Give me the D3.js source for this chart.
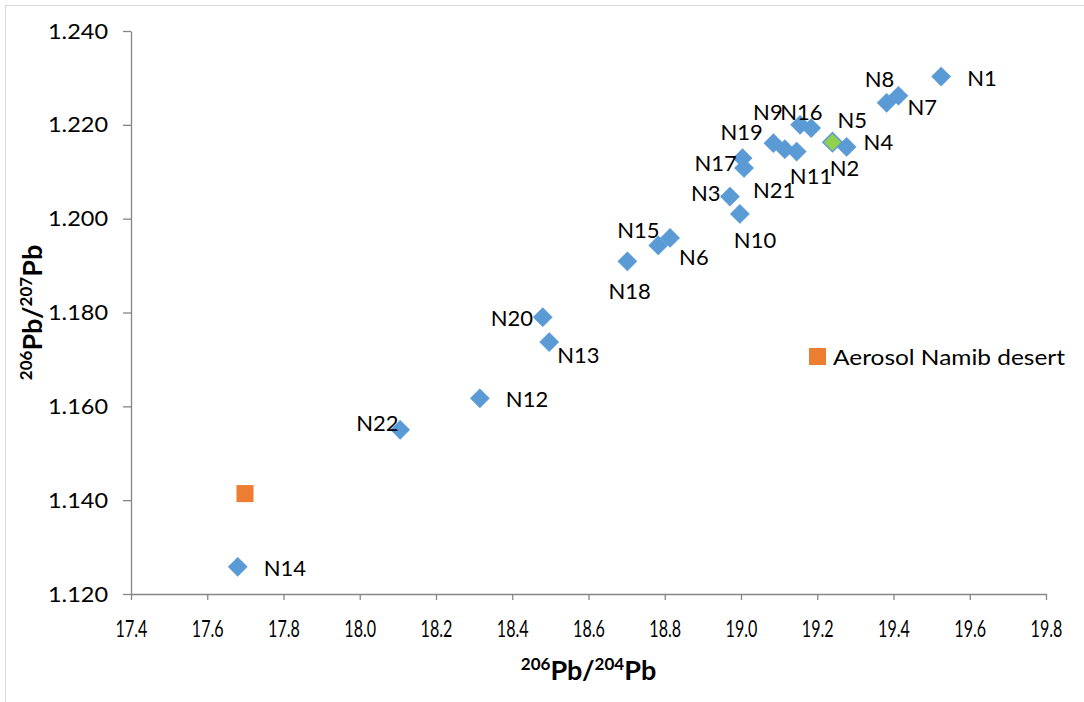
<!DOCTYPE html>
<html>
<head>
<meta charset="utf-8">
<script src="https://cdn.jsdelivr.net/npm/d3@7"></script>
<style>
  html, body { margin: 0; padding: 0; background: #fff; }
  svg { display: block; }
  text { font-family: Lato, "Open Sans", sans-serif; fill: #000; }
</style>
</head>
<body>
<svg id="chart" width="1084" height="702"></svg>
<script>
// ---- data ----
const sampleNames = ["N1","N2","N3","N4","N5","N6","N7","N8","N9","N10","N11",
                     "N12","N13","N14","N15","N16","N17","N18","N19","N20","N21","N22"];
const pb206_204 = [19.525,19.146,18.971,19.277,19.240,18.814,19.413,19.382,19.155,18.997,19.115,
                   18.315,18.497,17.680,18.783,19.184,19.004,18.702,19.085,18.480,19.008,18.106];
const pb206_207 = [1.2303,1.2143,1.2047,1.2153,1.2163,1.1959,1.2262,1.2247,1.2200,1.2010,1.2148,
                   1.1617,1.1737,1.1258,1.1943,1.2193,1.2129,1.1909,1.2161,1.1790,1.2108,1.1550];
const highlighted = ["N5"];           // point drawn with green fill
const aerosolName = "Aerosol Namib desert";
const aerosolX = [17.699];
const aerosolY = [1.1414];
const xTicks = [17.4,17.6,17.8,18.0,18.2,18.4,18.6,18.8,19.0,19.2,19.4,19.6,19.8];
const yTicks = [1.120,1.140,1.160,1.180,1.200,1.220,1.240];

// label placement (pixel offsets from marker, text-anchor start) — styling only
const labelOffsets = {
  N1:[26,1], N2:[33,16], N3:[-39,-4], N4:[17,-5], N5:[5,-23], N6:[9,19], N7:[9,11],
  N8:[-22,-24], N9:[-47,-13], N10:[-6,26], N11:[5,26], N12:[26,0], N13:[8,12],
  N14:[26,1], N15:[-41,-16], N16:[-31,-17], N17:[-48,4], N18:[-19,29], N19:[-53,-12],
  N20:[-52,0], N21:[9,22], N22:[-44,-7]
};

// ---- layout ----
const svg = d3.select("#chart");
const plot = {left:131, right:1046, top:31, bottom:594};
const x = d3.scaleLinear().domain([17.4,19.8]).range([plot.left, plot.right]);
const y = d3.scaleLinear().domain([1.120,1.240]).range([plot.bottom, plot.top]);
const axisColor = "#868686";

// outer chart border
svg.append("rect").attr("x",5.5).attr("y",5.5).attr("width",1100).attr("height",720)
  .attr("fill","none").attr("stroke","#d9d9d9").attr("stroke-width",1);

// axes
const xAxis = svg.append("g").attr("transform",`translate(0,${plot.bottom})`)
  .call(d3.axisBottom(x).tickValues(xTicks).tickFormat(d3.format(".1f")).tickSizeInner(6).tickSizeOuter(0).tickPadding(21));
const yAxis = svg.append("g").attr("transform",`translate(${plot.left},0)`)
  .call(d3.axisLeft(y).tickValues(yTicks).tickFormat(d3.format(".3f")).tickSizeInner(8).tickSizeOuter(0).tickPadding(15));
[xAxis,yAxis].forEach(g=>{
  g.attr("font-size",null).attr("font-family",null);
  g.select(".domain").attr("stroke",axisColor).attr("stroke-width",1.3);
  g.selectAll(".tick line").attr("stroke",axisColor).attr("stroke-width",1.3);
  g.selectAll(".tick text").attr("fill","#000");
});
xAxis.selectAll(".tick text").attr("font-size",23).attr("dy","0.71em").attr("transform","scale(0.7,1)");
yAxis.selectAll(".tick text").attr("font-size",22).attr("textLength",60).attr("lengthAdjust","spacingAndGlyphs");

// axis titles
function pbTitle(sel, a, b){
  sel.append("tspan").attr("font-size",17).attr("dy",-10).text(a);
  sel.append("tspan").attr("dy",10).text("Pb/");
  sel.append("tspan").attr("font-size",17).attr("dy",-10).text(b);
  sel.append("tspan").attr("dy",10).text("Pb");
}
const xt = svg.append("text").attr("x",(plot.left+plot.right)/2).attr("y",680)
  .attr("text-anchor","middle").attr("font-weight","bold").attr("font-size",27);
pbTitle(xt,"206","204");
const yt = svg.append("text").attr("transform",`translate(42,${(plot.top+plot.bottom)/2}) rotate(-90)`)
  .attr("text-anchor","middle").attr("font-weight","bold").attr("font-size",27);
pbTitle(yt,"206","207");

// sample points
const samples = sampleNames.map((n,i)=>({name:n, x:pb206_204[i], y:pb206_207[i]}));
const diamond = d3.symbol().type(d3.symbolSquare).size(185);
const order = samples.slice().sort((a,b)=> (highlighted.includes(a.name)?1:0) - (highlighted.includes(b.name)?1:0));
svg.append("g").selectAll("path").data(order).join("path")
  .attr("d",diamond)
  .attr("transform",d=>`translate(${x(d.x)},${y(d.y)}) rotate(45)`)
  .attr("fill",d=>highlighted.includes(d.name)?"#92D050":"#5B9BD5")
  .attr("stroke","#5B9BD5").attr("stroke-width",d=>highlighted.includes(d.name)?1.5:0.5);

// data labels
svg.append("g").selectAll("text").data(samples).join("text")
  .attr("x",d=>x(d.x)+labelOffsets[d.name][0])
  .attr("y",d=>y(d.y)+labelOffsets[d.name][1])
  .attr("dominant-baseline","central")
  .attr("font-size",22)
  .text(d=>d.name);

// aerosol series
const aerosol = aerosolX.map((v,i)=>({x:v,y:aerosolY[i]}));
svg.append("g").selectAll("path").data(aerosol).join("path")
  .attr("d",d3.symbol().type(d3.symbolSquare).size(290))
  .attr("transform",d=>`translate(${x(d.x)},${y(d.y)})`)
  .attr("fill","#ED7D31");

// legend
const lg = svg.append("g").attr("transform","translate(809,348)");
lg.append("rect").attr("width",17).attr("height",17).attr("fill","#ED7D31");
lg.append("text").attr("x",24).attr("y",8.5).attr("dominant-baseline","central")
  .attr("font-size",22).attr("textLength",232).attr("lengthAdjust","spacingAndGlyphs").text(aerosolName);
</script>
</body>
</html>
